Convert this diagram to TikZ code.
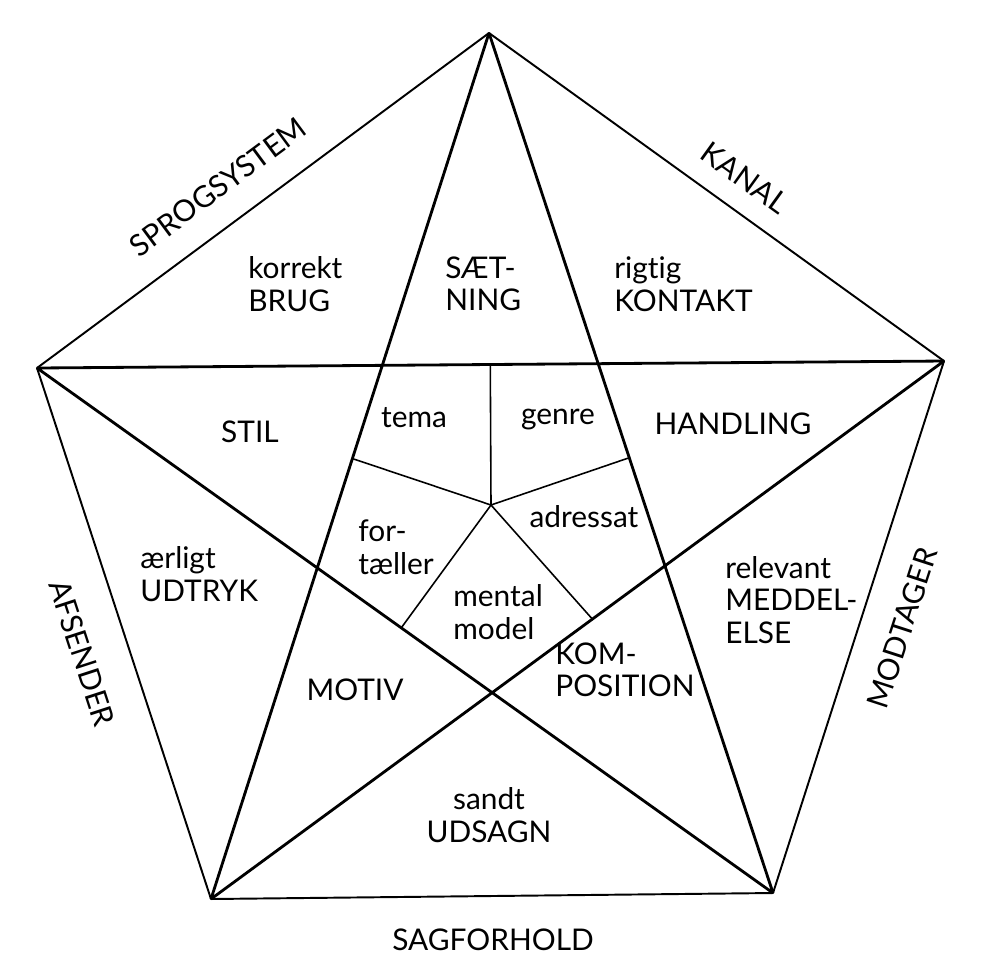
\documentclass[tikz,border=0pt]{standalone}
\usepackage{fontspec}
\setmainfont{Lato}[Ligatures=NoCommon]
\usetikzlibrary{calc}

\begin{document}
\begin{tikzpicture}[x=0.02cm, y=-0.02cm, every node/.style={font=\fontsize{17}{18.5}\selectfont, inner sep=0pt}]
  \useasboundingbox (0,0) rectangle (982,978);
  \coordinate (top) at (489,33);
  \coordinate (lft) at (37,368);
  \coordinate (rgt) at (944,361);
  \coordinate (bl) at (211,899);
  \coordinate (br) at (773,893);
  \draw[line width=1.1pt, line join=round] (top) -- (lft) -- (bl) -- (br) -- (rgt) -- cycle;
  \draw[line width=1.6pt] (top) -- (bl) (top) -- (br) (lft) -- (rgt) (lft) -- (br) (rgt) -- (bl);
  \coordinate (ia) at (intersection of top--bl and lft--rgt);
  \coordinate (ib) at (intersection of top--br and lft--rgt);
  \coordinate (ic) at (intersection of top--bl and lft--br);
  \coordinate (id) at (intersection of top--br and rgt--bl);
  \coordinate (ie) at (intersection of lft--br and rgt--bl);
  \coordinate (c) at (491,505);
  \foreach \p/\q/\f in {ia/ib/0.5, ia/ic/0.46, ib/id/0.465, ic/ie/0.48, ie/id/0.58}
    \draw[line width=0.9pt] (c) -- ($(\p)!\f!(\q)$);

  \node[rotate=36.5] (sprog) at (218,187) {SPROGSYSTEM};
  \node[rotate=-35.8] (kanal) at (745,178) {KANAL};
  \node[rotate=-72] (afs) at (82,653) {AFSENDER};
  \node[rotate=72] (mod) at (902,628) {MODTAGER};
  \node (sag) at (493,940) {SAGFORHOLD};

  \node[anchor=west, align=left] (brug) at (248,284) {korrekt\\BRUG};
  \node[anchor=west, align=left] (saet) at (445,284) {SÆT-\\NING};
  \node[anchor=west, align=left] (kontakt) at (614,284) {rigtig\\KONTAKT};
  \node (stil) at (250,432) {STIL};
  \node (tema) at (414,418) {tema};
  \node (genre) at (558,420) {genre};
  \node (handl) at (733,424) {HANDLING};
  \node[anchor=west, align=left] (fort) at (358,547) {for-\\tæller};
  \node (adr) at (584,517) {adressat};
  \node[anchor=west, align=left] (mental) at (453,612) {mental\\model};
  \node[anchor=west, align=left] (udtryk) at (140,574) {ærligt\\UDTRYK};
  \node[anchor=west, align=left] (medd) at (725,600) {relevant\\MEDDEL-\\ELSE};
  \node (motiv) at (355,690) {MOTIV};
  \node[anchor=west, align=left] (komp) at (555,670) {KOM-\\POSITION};
  \node[align=center] (udsagn) at (489,815) {sandt\\UDSAGN};
\end{tikzpicture}
\end{document}
